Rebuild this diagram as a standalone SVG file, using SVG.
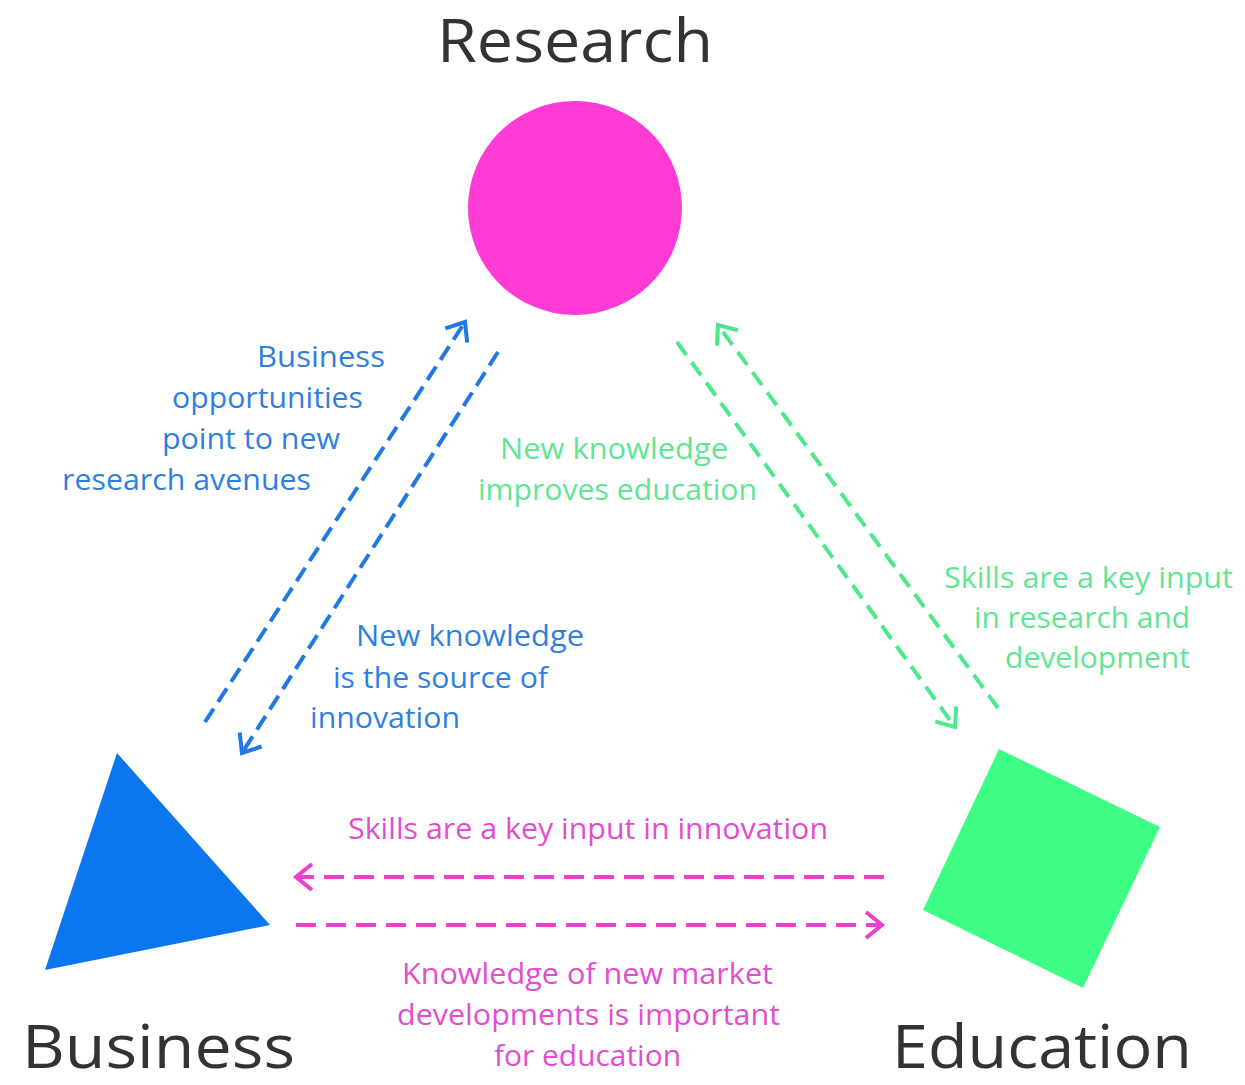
<svg xmlns="http://www.w3.org/2000/svg" width="1245" height="1085" viewBox="0 0 1245 1085">
<style>
text{font-family:"Open Sans","Liberation Sans",sans-serif;}
.big{font-size:60px;fill:#333333;}
.lbl{font-size:29px;}
.tb{fill:#2f7fe0;}
.tg{fill:#5fe594;}
.tp{fill:#e44ccf;}
.cb{stroke:#1f78e6;}
.cg{stroke:#4ee88c;}
.cp{stroke:#ec3fcf;}
.conn line{stroke-width:4;fill:none;}
</style>
<defs>
<marker id="ab" markerUnits="userSpaceOnUse" viewBox="-22 -16 26 32" refX="0" refY="0" markerWidth="26" markerHeight="32" orient="auto"><path d="M-16,-13 L0,0 L-16,13" fill="none" stroke="#1f78e6" stroke-width="4"/></marker>
<marker id="ag" markerUnits="userSpaceOnUse" viewBox="-22 -16 26 32" refX="0" refY="0" markerWidth="26" markerHeight="32" orient="auto"><path d="M-16,-13 L0,0 L-16,13" fill="none" stroke="#4ee88c" stroke-width="4"/></marker>
<marker id="ap" markerUnits="userSpaceOnUse" viewBox="-22 -16 26 32" refX="0" refY="0" markerWidth="26" markerHeight="32" orient="auto"><path d="M-16,-13 L0,0 L-16,13" fill="none" stroke="#ec3fcf" stroke-width="4"/></marker>
</defs>
<rect width="1245" height="1085" fill="#ffffff"/>
<g id="research">
<circle cx="575" cy="208" r="107" fill="#ff3bd5"/>
<text class="big" x="575" y="62" text-anchor="middle" textLength="276" lengthAdjust="spacingAndGlyphs">Research</text>
</g>
<g id="business">
<polygon points="117,753 270,925 45,970" fill="#0b76f0"/>
<text class="big" x="22" y="1068" textLength="273" lengthAdjust="spacingAndGlyphs">Business</text>
</g>
<g id="education">
<polygon points="999,749 1160,827 1083,988 923,910" fill="#3dfd85"/>
<text class="big" x="892" y="1068" textLength="300" lengthAdjust="spacingAndGlyphs">Education</text>
</g>
<g id="connectors" class="conn">
<line class="cb" x1="205" y1="722" x2="465" y2="322" stroke-dasharray="16 8" marker-end="url(#ab)"/>
<line class="cb" x1="498" y1="352" x2="242" y2="753" stroke-dasharray="16 8" marker-end="url(#ab)"/>
<line class="cg" x1="677" y1="342" x2="955" y2="727" stroke-dasharray="16 9" marker-end="url(#ag)"/>
<line class="cg" x1="998" y1="708" x2="718" y2="325" stroke-dasharray="16 9" marker-end="url(#ag)"/>
<line class="cp" x1="884" y1="877" x2="296" y2="877" stroke-dasharray="20 10" marker-end="url(#ap)"/>
<line class="cp" x1="296" y1="925" x2="882" y2="925" stroke-dasharray="20 10" marker-end="url(#ap)"/>
</g>
<g id="labels-business-research" class="lbl tb">
<text x="385" y="367" text-anchor="end" textLength="128" lengthAdjust="spacingAndGlyphs">Business</text>
<text x="363" y="408" text-anchor="end" textLength="191" lengthAdjust="spacingAndGlyphs">opportunities</text>
<text x="340" y="449" text-anchor="end" textLength="178" lengthAdjust="spacingAndGlyphs">point to new</text>
<text x="311" y="490" text-anchor="end" textLength="249" lengthAdjust="spacingAndGlyphs">research avenues</text>
<text x="356" y="646" textLength="228" lengthAdjust="spacingAndGlyphs">New knowledge</text>
<text x="333" y="688" textLength="215" lengthAdjust="spacingAndGlyphs">is the source of</text>
<text x="310" y="728" textLength="150" lengthAdjust="spacingAndGlyphs">innovation</text>
</g>
<g id="labels-research-education" class="lbl tg">
<text x="500" y="459" textLength="228" lengthAdjust="spacingAndGlyphs">New knowledge</text>
<text x="478" y="500" textLength="279" lengthAdjust="spacingAndGlyphs">improves education</text>
<text x="944" y="588" textLength="289" lengthAdjust="spacingAndGlyphs">Skills are a key input</text>
<text x="974" y="628" textLength="216" lengthAdjust="spacingAndGlyphs">in research and</text>
<text x="1005" y="668" textLength="185" lengthAdjust="spacingAndGlyphs">development</text>
</g>
<g id="labels-business-education" class="lbl tp">
<text x="348" y="839" textLength="480" lengthAdjust="spacingAndGlyphs">Skills are a key input in innovation</text>
<text x="402" y="984" textLength="371" lengthAdjust="spacingAndGlyphs">Knowledge of new market</text>
<text x="397" y="1025" textLength="383" lengthAdjust="spacingAndGlyphs">developments is important</text>
<text x="494" y="1066" textLength="187" lengthAdjust="spacingAndGlyphs">for education</text>
</g>
</svg>
